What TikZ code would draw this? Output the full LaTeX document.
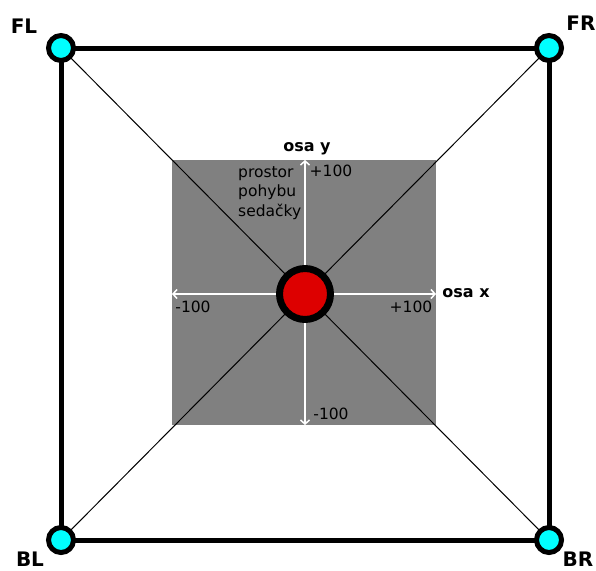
\documentclass[tikz,border=0pt]{standalone}
\usepackage{fontspec}
\setmainfont{DejaVu Sans}
\usetikzlibrary{arrows.meta}
\definecolor{zone}{HTML}{808080}
\definecolor{joint}{HTML}{00FFFF}
\definecolor{seat}{HTML}{DD0000}
\begin{document}
\begin{tikzpicture}[x=1pt,y=-1pt,
  corner/.style={circle,draw=black,line width=5pt,fill=joint,minimum size=25pt,inner sep=0pt},
  seatnode/.style={circle,draw=black,line width=7pt,fill=seat,minimum size=51pt,inner sep=0pt},
  frame/.style={line width=5pt,line cap=round,line join=round},
  diag/.style={line width=1pt,black},
  axis/.style={white,line width=1.5pt,{Straight Barb[length=4pt,width=9pt]}-{Straight Barb[length=4pt,width=9pt]}},
  lbl/.style={font=\fontsize{15.5}{19.5}\selectfont,inner sep=0pt},
  blbl/.style={font=\fontsize{16}{18}\selectfont\bfseries,inner sep=0pt},
  clbl/.style={font=\fontsize{20}{22}\selectfont\bfseries,inner sep=0pt}]
\useasboundingbox (0,0) rectangle (596,570);
\coordinate (pFL) at (61,48);
\coordinate (pFR) at (549,48);
\coordinate (pBL) at (61,540);
\coordinate (pBR) at (549,540);
\coordinate (pC) at (305,294);
\fill[zone] (172,160) rectangle (436,425);
\draw[diag] (pFL) -- (pC);
\draw[diag] (pFR) -- (pC);
\draw[diag] (pBL) -- (pC);
\draw[diag] (pBR) -- (pC);
\coordinate (xl) at (172,294);
\coordinate (xr) at (436,294);
\coordinate (yt) at (305,160);
\coordinate (yb) at (305,425);
\draw[axis] (xl) -- (xr);
\draw[axis] (yb) -- (yt);
\draw[frame] (pFL) -- (pFR) -- (pBR) -- (pBL) -- cycle;
\node[corner] (FL) at (pFL) {};
\node[corner] (FR) at (pFR) {};
\node[corner] (BL) at (pBL) {};
\node[corner] (BR) at (pBR) {};
\node[seatnode] (C) at (pC) {};
\node[clbl] (tFL) at (24,26) {FL};
\node[clbl] (tFR) at (581,23) {FR};
\node[clbl] (tBL) at (30,559) {BL};
\node[clbl] (tBR) at (578,559) {BR};
\node[blbl] (oy) at (307,149) {osa y};
\node[blbl] (ox) at (466,293) {osa x};
\node[lbl] (py) at (331,171) {+100};
\node[lbl] (ny) at (331,414) {-100};
\node[lbl] (nx) at (193,307) {-100};
\node[lbl] (px) at (411,307) {+100};
\node[lbl,align=left,anchor=north west] (txt) at (238,166) {prostor\\pohybu\\sedačky};
\end{tikzpicture}
\end{document}
